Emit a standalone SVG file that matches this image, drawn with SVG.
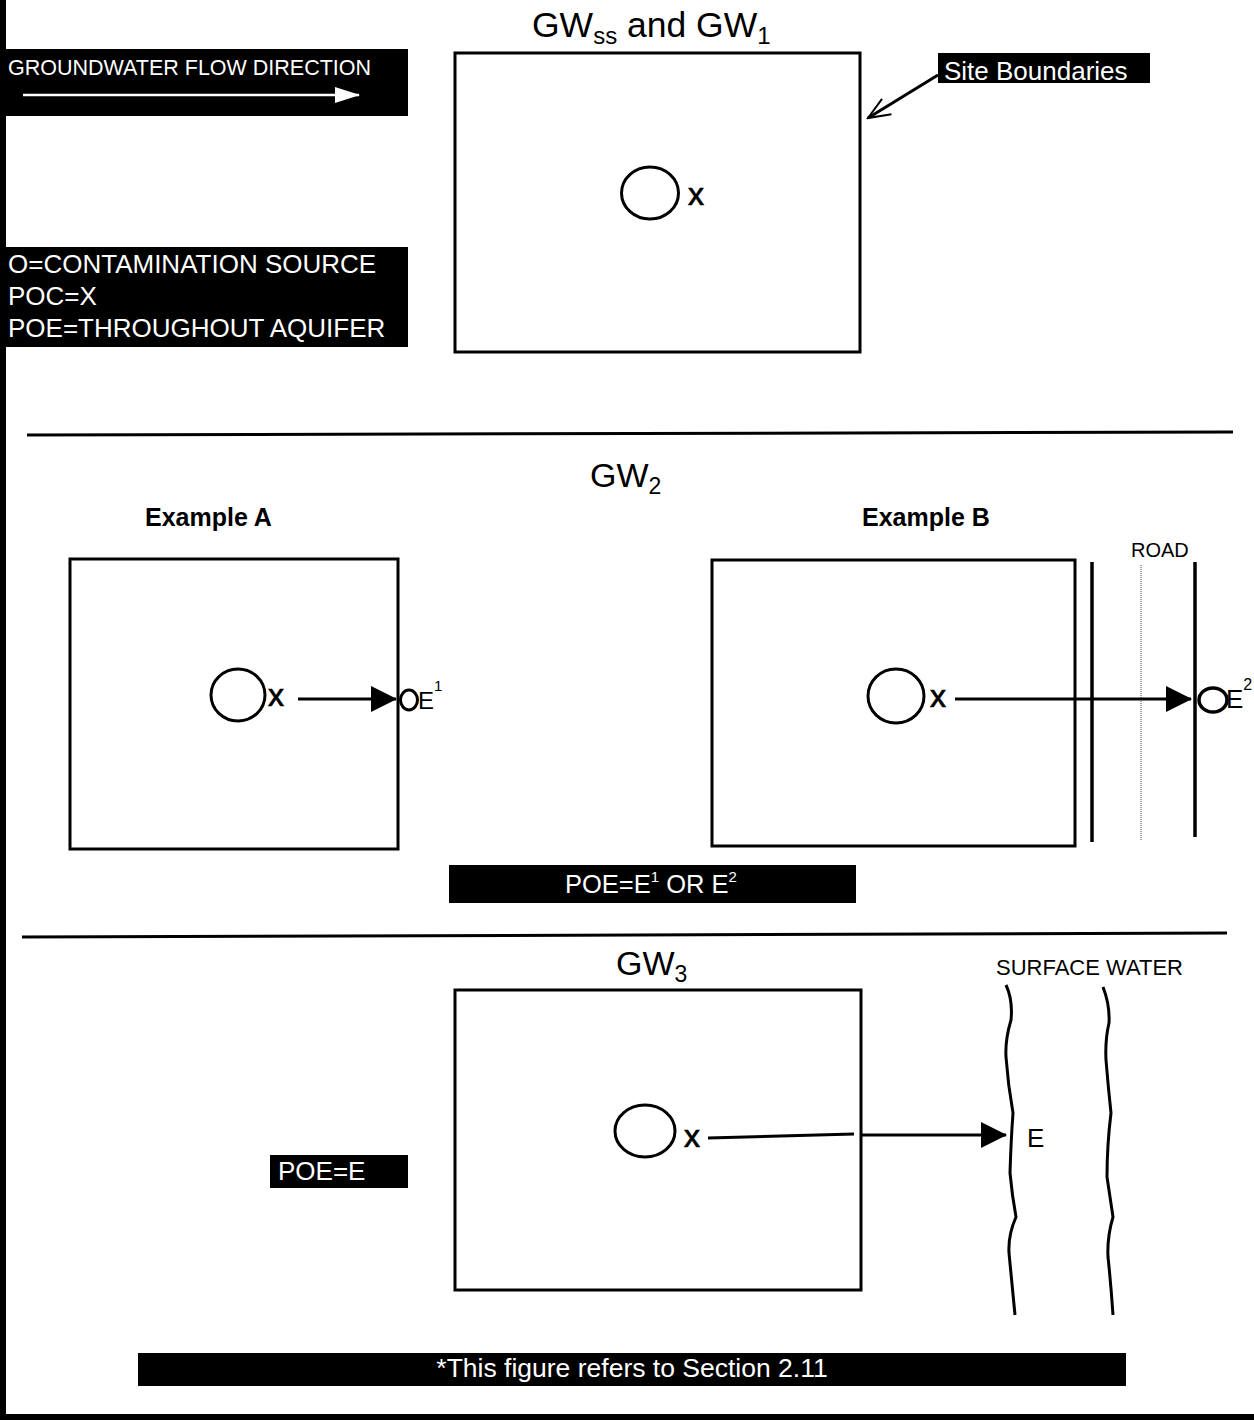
<svg xmlns="http://www.w3.org/2000/svg" width="1254" height="1420" viewBox="0 0 1254 1420">
<style>
text{font-family:"Liberation Sans",Arial,sans-serif;fill:#000}
.w{fill:#fff}
.b{font-weight:bold}
.x{stroke:#000;stroke-width:0.7}
.box{fill:none;stroke:#000;stroke-width:3}
.src{fill:none;stroke:#000;stroke-width:3}
.ln{stroke:#000;stroke-width:3;fill:none}
.blk{fill:#000}
</style>
<defs>
<marker id="tri" markerUnits="userSpaceOnUse" markerWidth="26" markerHeight="26" viewBox="0 0 26 26" refX="25" refY="13" orient="auto">
<path d="M0,0 L26,13 L0,26 z" fill="#000"/>
</marker>
<marker id="triw" markerUnits="userSpaceOnUse" markerWidth="25" markerHeight="16" viewBox="0 0 25 16" refX="24" refY="8" orient="auto">
<path d="M0,0 L25,8 L0,16 z" fill="#fff"/>
</marker>
<marker id="open" markerUnits="userSpaceOnUse" markerWidth="26" markerHeight="22" viewBox="0 0 26 22" refX="24" refY="11" orient="auto">
<path d="M2,2 L24,11 L2,20" fill="none" stroke="#000" stroke-width="2"/>
</marker>
</defs>

<rect x="0" y="0" width="1254" height="1420" fill="#fff"/>
<rect id="frame-left" class="blk" x="0" y="0" width="6" height="1420"/>
<rect id="frame-bottom" class="blk" x="0" y="1414" width="1254" height="6"/>

<g id="flow-direction">
<rect class="blk" x="6" y="49" width="402" height="67"/>
<text class="w" x="8" y="75" font-size="21.5">GROUNDWATER FLOW DIRECTION</text>
<line x1="23" y1="95" x2="359" y2="95" stroke="#fff" stroke-width="2.5" marker-end="url(#triw)"/>
</g>

<g id="legend">
<rect class="blk" x="6" y="247" width="402" height="100"/>
<text class="w" x="8" y="273" font-size="26">O=CONTAMINATION SOURCE</text>
<text class="w" x="8" y="305" font-size="26">POC=X</text>
<text class="w" x="8" y="337" font-size="26">POE=THROUGHOUT AQUIFER</text>
</g>

<g id="title-gw1">
<text x="532" y="37" font-size="35.5">GW<tspan font-size="24" dy="7">ss</tspan><tspan dy="-7"> and GW</tspan><tspan font-size="24" dy="7">1</tspan></text>
</g>

<g id="site-gw1">
<rect class="box" x="455" y="53" width="405" height="299"/>
<ellipse class="src" cx="650" cy="193" rx="28.5" ry="26"/>
<text class="x" x="688" y="205" font-size="32">x</text>
</g>

<g id="site-boundaries-label">
<rect class="blk" x="938" y="53" width="212" height="30"/>
<text class="w" x="944" y="80" font-size="26">Site Boundaries</text>
</g>

<g id="dividers">
<line class="ln" x1="27" y1="435" x2="1233" y2="432"/>
<line class="ln" x1="22" y1="937" x2="1227" y2="933"/>
</g>

<g id="title-gw2">
<text x="590" y="487" font-size="34">GW<tspan font-size="23" dy="7">2</tspan></text>
</g>

<g id="example-a">
<text class="b" x="145" y="526" font-size="25">Example A</text>
<rect class="box" x="70" y="559" width="328" height="290"/>
<ellipse class="src" cx="238" cy="695" rx="27" ry="26"/>
<text class="x" x="268" y="706" font-size="32">x</text>
<ellipse class="src" cx="409" cy="700" rx="8.5" ry="10"/>
<text x="418" y="709" font-size="24">E<tspan font-size="15" dy="-18">1</tspan></text>
</g>

<g id="example-b">
<text class="b" x="862" y="526" font-size="25">Example B</text>
<rect class="box" x="712" y="560" width="363" height="286"/>
<ellipse class="src" cx="896" cy="696" rx="28" ry="27"/>
<text class="x" x="930" y="707" font-size="32">x</text>
</g>

<g id="road">
<text x="1131" y="557" font-size="20">ROAD</text>
<line x1="1092" y1="562" x2="1092" y2="842" stroke="#000" stroke-width="3.5"/>
<line x1="1141" y1="565" x2="1141" y2="840" stroke="#888" stroke-width="1.5" stroke-dasharray="1 1"/>
<line x1="1195" y1="562" x2="1195" y2="837" stroke="#000" stroke-width="3.5"/>
<ellipse cx="1213" cy="700" rx="14" ry="12" fill="none" stroke="#000" stroke-width="3.5"/>
<text x="1226" y="708" font-size="26">E<tspan font-size="16" dy="-18">2</tspan></text>
</g>

<g id="poe-e1-e2">
<rect class="blk" x="449" y="865" width="407" height="38"/>
<text class="w" x="565" y="893" font-size="25.5">POE=E<tspan font-size="15" dy="-11">1</tspan><tspan dy="11"> OR E</tspan><tspan font-size="15" dy="-11">2</tspan></text>
</g>

<g id="title-gw3">
<text x="616" y="975" font-size="34">GW<tspan font-size="23" dy="7">3</tspan></text>
</g>

<g id="site-gw3">
<rect class="box" x="455" y="990" width="406" height="300"/>
<ellipse class="src" cx="645" cy="1131" rx="30" ry="26"/>
<text class="x" x="684" y="1147" font-size="32">x</text>
</g>

<g id="surface-water">
<text x="996" y="975" font-size="22">SURFACE WATER</text>
<path class="ln" d="M1006,985 Q1013,1000 1011,1020 Q1005,1040 1006,1057 Q1008,1085 1013,1113 Q1011,1140 1010,1173 Q1012,1195 1016,1217 Q1008,1235 1009,1253 Q1012,1285 1015,1315"/>
<path class="ln" d="M1103,987 Q1110,1005 1109,1023 Q1105,1040 1106,1060 Q1108,1085 1111,1113 Q1107,1145 1107,1177 Q1110,1197 1113,1217 Q1107,1237 1108,1257 Q1111,1285 1113,1315"/>
<text x="1027" y="1147" font-size="26">E</text>
</g>

<g id="poe-e">
<rect class="blk" x="270" y="1155" width="138" height="33"/>
<text class="w" x="278" y="1180" font-size="26">POE=E</text>
</g>

<g id="footnote">
<rect class="blk" x="138" y="1353" width="988" height="33"/>
<text class="w" x="632" y="1377" font-size="26.5" text-anchor="middle">*This figure refers to Section 2.11</text>
</g>

<g id="connectors">
<line class="ln" x1="938" y1="75" x2="868" y2="118" stroke-width="1.8" marker-end="url(#open)"/>
<line class="ln" x1="298" y1="699" x2="396" y2="699" marker-end="url(#tri)"/>
<line class="ln" x1="955" y1="699" x2="1191" y2="699" marker-end="url(#tri)"/>
<line class="ln" x1="708" y1="1138" x2="854" y2="1134"/>
<line class="ln" x1="861" y1="1135" x2="1006" y2="1135" marker-end="url(#tri)"/>
</g>
</svg>
